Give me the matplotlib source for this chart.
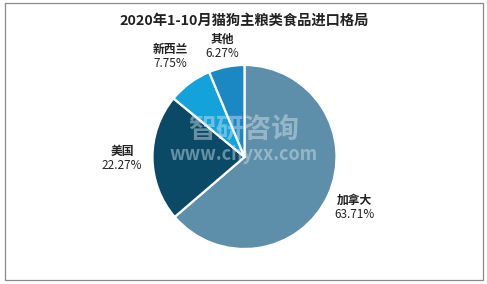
import matplotlib.pyplot as plt
import numpy as np
from matplotlib.patches import Rectangle

plt.rcParams['font.family'] = ['Noto Sans CJK SC', 'DejaVu Sans']

# 数据
regions = ['加拿大', '美国', '新西兰', '其他']
shares = [63.71, 22.27, 7.75, 6.27]
colors = ['#5E8FAA', '#0B4A66', '#14A2DA', '#1B88C4']
label_dist = [1.31, 1.33, 1.36, 1.23]

fig = plt.figure(figsize=(4.87, 2.84), dpi=100)
ax = fig.add_axes([0, 0, 1, 1])

# 外框
fig.patches.append(Rectangle((5 / 487, 4 / 284), 478 / 487, 277 / 284, transform=fig.transFigure,
                             fill=False, edgecolor='#8a8a8a', linewidth=0.9))

cx, cy, r = 244.5, 127, 92
wedges, _ = ax.pie(shares, colors=colors, startangle=90, counterclock=False,
                   center=(cx, cy), radius=r, labels=None,
                   wedgeprops=dict(edgecolor='white', linewidth=1.6))

# 标签
for w, name, val, d in zip(wedges, regions, shares, label_dist):
    ang = np.deg2rad((w.theta1 + w.theta2) / 2)
    x = cx + d * r * np.cos(ang)
    y = cy + d * r * np.sin(ang)
    ax.text(x, y + 0.5, name, ha='center', va='bottom', fontsize=8.5, fontweight='bold', color='#222222')
    ax.text(x, y - 0.5, f'{val:.2f}%', ha='center', va='top', fontsize=8.5, color='#222222')

ax.text(244, 263, '2020年1-10月猫狗主粮类食品进口格局', ha='center', va='center',
        fontsize=10.3, fontweight='bold', color='#222222')

# 水印
ax.text(244, 154, '智研咨询', ha='center', va='center', fontsize=20, fontweight='bold',
        color='#d8e6ee', alpha=0.45)
ax.text(244, 130, 'www.chyxx.com', ha='center', va='center', fontsize=13, fontweight='bold',
        color='#d8e6ee', alpha=0.45)

ax.set_xlim(0, 487)
ax.set_ylim(0, 284)
ax.set_aspect('auto')
ax.axis('off')

plt.savefig('out.png', dpi=100)
